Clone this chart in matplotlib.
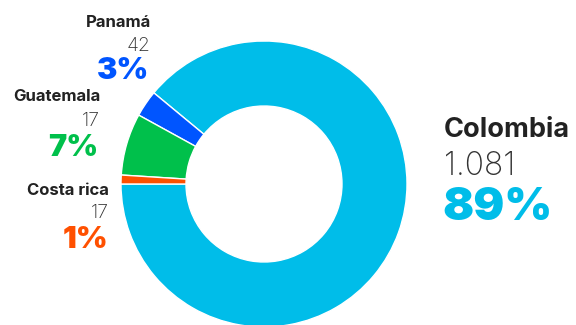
import matplotlib
matplotlib.use('Agg')
import matplotlib.pyplot as plt

# data
countries = ['Colombia', 'Panamá', 'Guatemala', 'Costa rica']
counts = [1081, 42, 17, 17]
shares = [89, 3, 7, 1]
colors = ['#00BDE9', '#0055FF', '#00C04B', '#FF5000']

W, H = 576, 325
fig = plt.figure(figsize=(W / 100, H / 100), dpi=100)

# donut: centre (264, 184) px, outer radius 143 px, inner 78 px
cx, cy, R = 264, 184, 143
ax = fig.add_axes([(cx - R) / W, (H - cy - R) / H, 2 * R / W, 2 * R / H])
ax.pie(shares, colors=colors, startangle=180, counterclock=True,
       wedgeprops=dict(width=1 - 78 / 143, edgecolor='white', linewidth=1))
ax.set_xlim(-1, 1)
ax.set_ylim(-1, 1)
ax.set_aspect('equal')
ax.axis('off')

font = 'Inter'


def px(x, y):
    return x / W, (H - y) / H


def label(i, x, ys, ha, sizes):
    name, num, pct = ys
    fig.text(*px(x[0], name), countries[i], ha=ha, va='baseline', fontsize=sizes[0],
             fontweight='bold', color='#222222', family=font)
    fig.text(*px(x[1], num), f'{counts[i]:,}'.replace(',', '.'), ha=ha, va='baseline',
             fontsize=sizes[1], fontweight='light', color='#333333', family=font)
    fig.text(*px(x[2], pct), f'{shares[i]}%', ha=ha, va='baseline', fontsize=sizes[2],
             fontweight='black', color=colors[i], family=font)


small = (12, 14, 22)
label(1, (151, 151, 149), (27, 51, 79), 'right', small)
label(2, (100, 100, 98), (101, 126, 156), 'right', small)
label(3, (109, 109, 108), (195, 218, 248), 'right', small)
label(0, (444, 444, 442), (137, 175, 220), 'left', (19.5, 23, 33))

fig.savefig('out.png', dpi=100)
